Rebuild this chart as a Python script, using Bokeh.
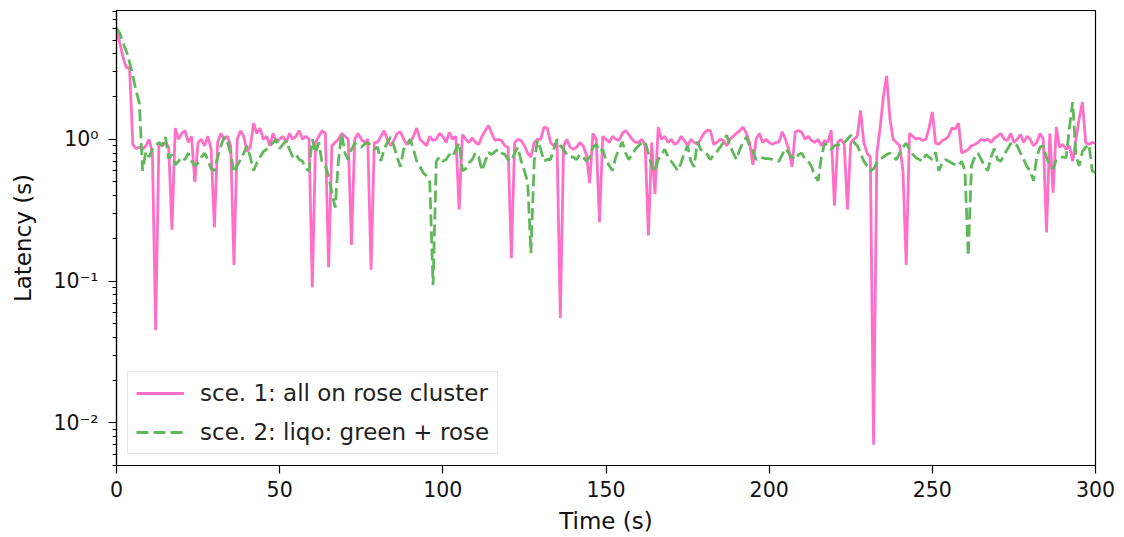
from bokeh.plotting import figure
from bokeh.models import Range1d, FixedTicker, Legend, LegendItem
from bokeh.embed import file_html
from bokeh.resources import INLINE

# ---- data ----
time_s = list(range(0, 301))

sce1_latency = [
    5.8, 4.8, 3.8, 3.2, 3.2, 0.92, 0.86, 0.88, 0.85, 0.9,
    1.0, 0.8, 0.045, 0.95, 0.9, 0.95, 0.88, 0.23, 1.2, 1.0,
    1.1, 1.15, 0.95, 1.05, 0.5, 0.95, 1.0, 0.9, 1.05, 0.85,
    0.24, 0.95, 1.1, 1.0, 1.05, 0.9, 0.13, 1.0, 1.15, 1.05,
    0.82, 0.88, 1.3, 1.1, 1.2, 1.0, 1.05, 0.9, 1.1, 0.95,
    1.0, 1.05, 0.95, 1.1, 1.0, 1.05, 1.15, 1.0, 1.05, 1.0,
    0.09, 0.95, 1.05, 1.15, 1.1, 0.125, 0.9, 0.95, 1.0, 1.1,
    1.05, 1.0, 0.18, 1.0, 1.1, 1.0, 0.95, 1.0, 0.12, 0.95,
    0.95, 1.05, 1.15, 1.0, 0.9, 0.98, 1.1, 1.13, 1.0, 0.92,
    0.95, 1.05, 1.2, 1.0, 0.95, 0.9, 1.05, 0.98, 1.0, 1.1,
    1.05, 0.95, 1.12, 1.0, 1.05, 0.32, 1.08, 1.0, 0.95, 1.02,
    0.95, 0.92, 1.05, 1.15, 1.25, 1.1, 0.98, 1.0, 0.98, 0.9,
    0.88, 0.145, 0.95, 1.0, 0.98, 0.9, 0.8, 0.75, 0.95, 1.0,
    1.0, 1.22, 1.2, 0.95, 0.9, 0.95, 0.055, 0.9, 1.0, 0.88,
    0.85, 0.88, 0.95, 0.9, 0.78, 0.49, 1.1, 1.0, 0.26, 1.05,
    1.0, 0.95, 1.05, 1.0, 0.98, 1.1, 1.15, 1.08, 1.0, 0.95,
    0.95, 1.0, 0.9, 0.21, 0.95, 0.41, 1.22, 1.0, 1.05, 0.95,
    1.0, 0.92, 0.95, 1.05, 0.98, 0.9, 1.0, 0.95, 0.92, 1.0,
    1.1, 1.16, 1.15, 0.92, 0.95, 1.0, 0.98, 0.9, 1.0, 1.05,
    1.1, 1.15, 1.22, 1.1, 0.95, 0.66, 1.0, 1.1, 0.95, 1.0,
    0.95, 0.92, 0.95, 0.95, 1.13, 1.0, 0.85, 0.64, 1.13, 1.15,
    1.12, 1.0, 1.05, 0.98, 0.95, 1.0, 0.9, 0.98, 0.95, 1.16,
    0.34, 0.95, 1.0, 0.92, 0.32, 0.95, 1.0, 1.05, 1.6, 0.95,
    0.8, 0.75, 0.007, 0.8, 1.2, 2.0, 2.8, 1.4, 1.0, 0.95,
    0.9, 0.6, 0.13, 1.1, 1.05, 1.0, 1.02, 0.98, 1.0, 1.2,
    1.56, 0.94, 0.92, 0.98, 1.0, 1.05, 1.2, 1.18, 1.3, 0.8,
    0.82, 0.85, 0.9, 0.92, 0.95, 1.0, 0.98, 1.0, 0.95, 1.02,
    1.05, 1.1, 1.0, 0.98, 1.1, 0.95, 1.0, 1.08, 0.95, 1.05,
    1.0, 0.9, 0.95, 1.1, 1.0, 0.22, 1.1, 0.42, 1.22, 0.88,
    0.92, 0.85, 0.9, 0.7, 1.0, 1.4, 1.83, 0.95, 0.92, 0.95,
    0.94,
]

sce2_latency = [
    6.1, 5.6, 4.8, 4.2, 3.5, 2.8, 2.2, 1.8, 0.6, 0.82,
    0.75, 0.85, 0.9, 0.95, 0.9, 1.04, 0.73, 0.78, 0.66, 0.7,
    0.75, 0.72, 0.8, 0.7, 0.65, 0.68, 0.75, 0.8, 0.72, 0.62,
    0.6, 0.75, 0.9, 1.04, 0.95, 0.8, 0.58, 0.65, 0.72, 0.8,
    0.9, 0.75, 0.6, 0.68, 0.75, 0.82, 0.85, 0.9, 0.95, 1.0,
    0.86, 0.92, 0.98, 0.85, 0.75, 0.78, 0.72, 0.7, 0.62, 0.6,
    1.0, 0.8, 0.95, 0.68, 0.65, 0.55, 0.42, 0.33, 0.7, 1.1,
    0.8, 0.72, 0.85, 0.94, 0.9, 0.88, 0.92, 0.95, 0.9, 0.85,
    0.88, 0.7, 0.85, 0.95, 1.04, 0.9, 0.75, 0.64, 0.85, 0.92,
    1.0, 0.85, 0.7, 0.64, 0.58, 0.55, 0.5, 0.094, 0.7, 0.75,
    0.7, 0.72, 0.78, 0.75, 0.85, 0.94, 0.6, 0.62, 0.68, 0.72,
    0.8, 0.75, 0.6, 0.7, 0.81, 0.78, 0.82, 0.85, 0.8, 0.78,
    0.72, 0.7, 0.8, 0.88, 0.7, 0.6, 0.5, 0.157, 0.7, 0.98,
    0.85, 0.7, 0.72, 0.72, 0.85, 1.0, 0.9, 0.85, 0.78, 0.75,
    0.75, 0.72, 0.78, 0.75, 0.7, 0.75, 0.88, 0.92, 0.82, 0.85,
    0.71, 0.65, 0.6, 0.75, 0.85, 0.96, 0.8, 0.72, 0.78, 0.85,
    0.9, 0.95, 0.96, 0.8, 0.65, 0.59, 0.72, 0.78, 0.85, 0.75,
    0.7, 0.65, 0.6, 0.68, 0.8, 0.9, 0.7, 0.64, 0.96, 0.85,
    0.82, 0.78, 0.72, 0.78, 0.82, 0.88, 0.95, 1.07, 0.9, 0.8,
    0.72, 0.85, 0.95, 1.04, 0.9, 0.82, 0.72, 0.75, 0.74, 0.73,
    0.73, 0.72, 0.7, 0.7, 0.78, 0.86, 0.8, 0.75, 0.72, 0.78,
    0.8, 0.72, 0.7, 0.64, 0.55, 0.51, 0.75, 0.94, 0.88, 0.85,
    0.9, 0.92, 0.9, 0.95, 1.0, 1.07, 0.95, 0.9, 0.8, 0.7,
    0.65, 0.6, 0.62, 0.68, 0.72, 0.75, 0.78, 0.8, 0.75, 0.72,
    0.8, 0.88, 0.94, 0.85, 0.78, 0.74, 0.72, 0.7, 0.78, 0.75,
    0.72, 0.81, 0.6, 0.68, 0.72, 0.7, 0.68, 0.66, 0.65, 0.7,
    0.6, 0.15, 0.65, 0.75, 0.8, 0.72, 0.65, 0.6, 0.75, 0.86,
    0.72, 0.7, 0.78, 0.85, 0.93, 0.95, 0.9, 0.8, 0.72, 0.64,
    0.6, 0.51, 0.75, 0.88, 0.9, 0.74, 0.65, 0.62, 0.72, 0.74,
    0.75, 0.74, 1.2, 1.83, 0.77, 0.65, 0.82, 0.88, 0.92, 0.6,
    0.58,
]

series_labels = ["sce. 1: all on rose cluster", "sce. 2: liqo: green + rose"]
x_ticks = [0, 50, 100, 150, 200, 250, 300]
y_ticks = [0.01, 0.1, 1]
y_tick_labels = {0.01: "10\u207b\u00b2", 0.1: "10\u207b\u00b9", 1: "10\u2070"}

assert len(sce1_latency) == len(time_s) and len(sce2_latency) == len(time_s)

PINK = "#ff6ec7"
GREEN = "#5fb85a"
FONT = "DejaVu Sans"
TICK_FS = "20.5px"
LABEL_FS = "23px"

p = figure(width=1124, height=537, y_axis_type="log",
           x_range=Range1d(0, 300), y_range=Range1d(0.005, 8.1),
           output_backend="svg", toolbar_location=None,
           min_border_left=116, min_border_right=29,
           min_border_top=10, min_border_bottom=72)

p.grid.visible = False
p.outline_line_color = "black"
p.outline_line_width = 1.2
p.outline_line_alpha = 1
p.background_fill_color = "white"
p.border_fill_color = "white"

r1 = p.line(time_s, sce1_latency, line_color=PINK, line_width=2.8)
r2 = p.line(time_s, sce2_latency, line_color=GREEN, line_width=2.8, line_dash="12 5")

# minor ticks on the log axis (2..9 per decade)
minor = []
for d in [0.001, 0.01, 0.1, 1]:
    for m in range(2, 10):
        minor.append(d * m)

p.yaxis.ticker = FixedTicker(ticks=y_ticks, minor_ticks=minor)
p.yaxis.major_label_overrides = y_tick_labels
p.xaxis.ticker = FixedTicker(ticks=x_ticks, minor_ticks=[])

for ax in (p.xaxis[0], p.yaxis[0]):
    ax.axis_line_color = "black"
    ax.axis_line_width = 1.2
    ax.major_tick_line_color = "black"
    ax.minor_tick_line_color = "black"
    ax.major_tick_line_width = 1.2
    ax.minor_tick_line_width = 1
    ax.major_tick_in = 0
    ax.major_tick_out = 8
    ax.minor_tick_in = 0
    ax.minor_tick_out = 4
    ax.major_label_text_font = FONT
    ax.major_label_text_font_size = TICK_FS
    ax.major_label_text_color = "#111111"
    ax.axis_label_text_font = FONT
    ax.axis_label_text_font_size = LABEL_FS
    ax.axis_label_text_font_style = "normal"
    ax.axis_label_text_color = "#111111"

p.xaxis.axis_label = "Time (s)"
p.yaxis.axis_label = "Latency (s)"
p.xaxis.major_label_standoff = 7
p.xaxis.axis_label_standoff = 8
p.yaxis.major_label_standoff = 10
p.yaxis.axis_label_standoff = 14

legend = Legend(items=[LegendItem(label=series_labels[0], renderers=[r1]),
                       LegendItem(label=series_labels[1], renderers=[r2])],
                location="bottom_left")
legend.margin = 11
legend.padding = 8
legend.spacing = 13
legend.glyph_width = 48
legend.glyph_height = 22
legend.label_height = 22
legend.label_standoff = 16
legend.label_text_font = FONT
legend.label_text_font_size = LABEL_FS
legend.label_text_color = "#222222"
legend.border_line_color = "#cccccc"
legend.border_line_width = 1.2
legend.background_fill_color = "white"
legend.background_fill_alpha = 0.8
p.add_layout(legend, "center")

open("out.html", "w").write(file_html(p, INLINE))
